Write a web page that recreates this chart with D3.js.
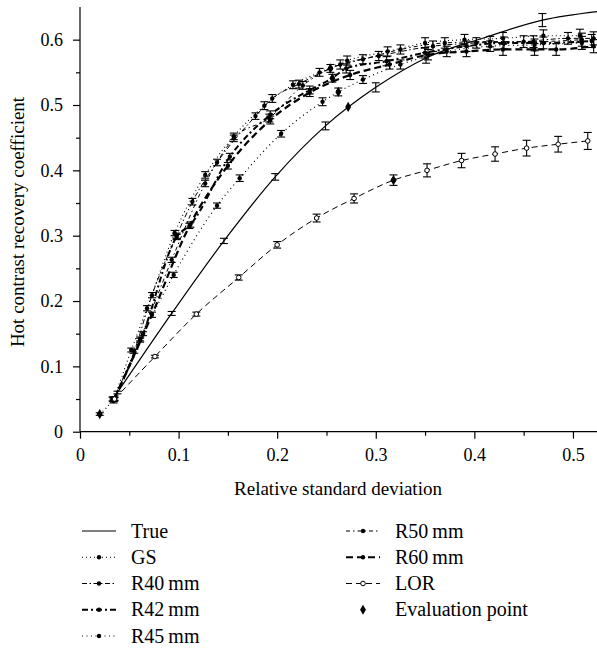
<!DOCTYPE html>
<html><head><meta charset="utf-8">
<script src="https://cdn.jsdelivr.net/npm/d3@7"></script>
<style>
html,body{margin:0;padding:0;background:#fff;}
svg text{font-family:"Liberation Serif","DejaVu Serif",serif;fill:#000;}
</style></head>
<body><svg id="chart" width="597" height="650"></svg>
<script>
// ---- data ----
const xTicks = [0, 0.1, 0.2, 0.3, 0.4, 0.5];
const yTicks = [0, 0.1, 0.2, 0.3, 0.4, 0.5, 0.6];
const xTickLabels = ["0", "0.1", "0.2", "0.3", "0.4", "0.5"];
const yTickLabels = ["0", "0.1", "0.2", "0.3", "0.4", "0.5", "0.6"];

const trueX = [0.038, 0.093, 0.146, 0.198, 0.249, 0.300, 0.351, 0.410, 0.469, 0.530];
const trueY = [0.060, 0.181, 0.292, 0.390, 0.468, 0.527, 0.572, 0.603, 0.630, 0.644];
const trueErr = [0.002, 0.003, 0.004, 0.005, 0.006, 0.007, 0.008, 0.000, 0.010, 0.000];

const gsX = [0.020, 0.033, 0.052, 0.068, 0.096, 0.127, 0.156, 0.187, 0.216, 0.243, 0.271, 0.312, 0.350, 0.390, 0.429, 0.470, 0.507];
const gsY = [0.027, 0.050, 0.125, 0.189, 0.304, 0.393, 0.452, 0.499, 0.531, 0.550, 0.568, 0.582, 0.595, 0.600, 0.602, 0.606, 0.606];
const gsErr = [0.002, 0.003, 0.003, 0.004, 0.004, 0.005, 0.005, 0.006, 0.006, 0.006, 0.007, 0.007, 0.008, 0.008, 0.009, 0.009, 0.010];

const r40X = [0.034, 0.055, 0.073, 0.098, 0.114, 0.139, 0.178, 0.195, 0.222, 0.264, 0.303, 0.358, 0.402, 0.450, 0.495, 0.521];
const r40Y = [0.050, 0.123, 0.209, 0.300, 0.352, 0.412, 0.483, 0.510, 0.532, 0.562, 0.575, 0.590, 0.595, 0.597, 0.602, 0.602];
const r40Err = [0.003, 0.003, 0.004, 0.004, 0.005, 0.005, 0.005, 0.006, 0.006, 0.007, 0.007, 0.008, 0.008, 0.009, 0.009, 0.010];

const r42X = [0.034, 0.064, 0.098, 0.112, 0.152, 0.193, 0.233, 0.256, 0.270, 0.311, 0.350, 0.392, 0.430, 0.470, 0.519];
const r42Y = [0.049, 0.150, 0.298, 0.317, 0.421, 0.485, 0.523, 0.541, 0.556, 0.567, 0.580, 0.590, 0.595, 0.595, 0.598];
const r42Err = [0.003, 0.003, 0.004, 0.004, 0.005, 0.006, 0.006, 0.006, 0.007, 0.007, 0.008, 0.008, 0.009, 0.009, 0.010];

const r45X = [0.034, 0.061, 0.095, 0.139, 0.162, 0.204, 0.246, 0.262, 0.287, 0.325, 0.372, 0.416, 0.461, 0.509];
const r45Y = [0.047, 0.140, 0.240, 0.346, 0.388, 0.456, 0.505, 0.520, 0.539, 0.562, 0.582, 0.590, 0.592, 0.595];
const r45Err = [0.003, 0.003, 0.004, 0.004, 0.005, 0.005, 0.006, 0.006, 0.006, 0.007, 0.008, 0.008, 0.009, 0.010];

const r50X = [0.034, 0.061, 0.093, 0.127, 0.156, 0.192, 0.226, 0.254, 0.287, 0.325, 0.370, 0.416, 0.460, 0.509];
const r50Y = [0.050, 0.142, 0.263, 0.380, 0.449, 0.480, 0.530, 0.556, 0.570, 0.585, 0.595, 0.597, 0.597, 0.600];
const r50Err = [0.003, 0.003, 0.004, 0.005, 0.005, 0.006, 0.006, 0.006, 0.007, 0.007, 0.008, 0.008, 0.009, 0.010];

const r60X = [0.035, 0.073, 0.111, 0.150, 0.193, 0.233, 0.274, 0.314, 0.353, 0.392, 0.429, 0.461, 0.483, 0.521];
const r60Y = [0.050, 0.179, 0.315, 0.407, 0.477, 0.519, 0.546, 0.562, 0.577, 0.582, 0.585, 0.585, 0.585, 0.590];
const r60Err = [0.003, 0.004, 0.004, 0.005, 0.006, 0.006, 0.007, 0.007, 0.008, 0.008, 0.009, 0.009, 0.009, 0.010];

const lorX = [0.035, 0.076, 0.118, 0.161, 0.200, 0.240, 0.278, 0.318, 0.352, 0.387, 0.421, 0.453, 0.485, 0.515];
const lorY = [0.050, 0.115, 0.180, 0.236, 0.286, 0.327, 0.357, 0.385, 0.400, 0.415, 0.425, 0.434, 0.440, 0.445];
const lorErr = [0.002, 0.002, 0.003, 0.004, 0.005, 0.006, 0.007, 0.008, 0.010, 0.011, 0.011, 0.012, 0.012, 0.013];

const evalX = [0.020, 0.254, 0.256, 0.262, 0.272, 0.318];
const evalY = [0.027, 0.556, 0.541, 0.520, 0.497, 0.385];

const seriesNames = ["True", "GS", "R40\u2009mm", "R42\u2009mm", "R45\u2009mm", "R50\u2009mm", "R60\u2009mm", "LOR", "Evaluation point"];

// ---- build ----
const svg = d3.select("#chart");
const x = d3.scaleLinear().domain([0, 0.525]).range([80, 597.6]);
const y = d3.scaleLinear().domain([0, 0.65]).range([431.7, 7]);

const styles = {
  "True": {dash: null, w: 1.2, marker: "none"},
  "GS": {dash: "1,3", w: 1.1, marker: "dot"},
  "R40\u2009mm": {dash: "5,2.5,1.5,2.5", w: 1, marker: "dot"},
  "R42\u2009mm": {dash: "6,3,2,3", w: 2, marker: "dot"},
  "R45\u2009mm": {dash: "1,3.5", w: 1.2, marker: "dot"},
  "R50\u2009mm": {dash: "4,3,1.5,3", w: 1, marker: "dot"},
  "R60\u2009mm": {dash: "7,4", w: 2.2, marker: "dot"},
  "LOR": {dash: "6,4", w: 1, marker: "open"}
};

const series = [
  {name: seriesNames[0], xs: trueX, ys: trueY, es: trueErr},
  {name: seriesNames[1], xs: gsX, ys: gsY, es: gsErr},
  {name: seriesNames[2], xs: r40X, ys: r40Y, es: r40Err},
  {name: seriesNames[3], xs: r42X, ys: r42Y, es: r42Err},
  {name: seriesNames[4], xs: r45X, ys: r45Y, es: r45Err},
  {name: seriesNames[5], xs: r50X, ys: r50Y, es: r50Err},
  {name: seriesNames[6], xs: r60X, ys: r60Y, es: r60Err},
  {name: seriesNames[7], xs: lorX, ys: lorY, es: lorErr}
];

svg.append("defs").append("clipPath").attr("id", "clip")
  .append("rect").attr("x", 80).attr("y", 0).attr("width", 520).attr("height", 432);

const plot = svg.append("g").attr("clip-path", "url(#clip)");
const line = d3.line().x(d => x(d[0])).y(d => y(d[1])).curve(d3.curveMonotoneX);

series.forEach(s => {
  const st = styles[s.name];
  const pts = s.xs.map((v, i) => [v, s.ys[i], s.es[i]]);
  plot.append("path").datum(pts).attr("d", line)
    .attr("fill", "none").attr("stroke", "#000").attr("stroke-width", st.w)
    .attr("stroke-dasharray", st.dash);
  const eb = plot.append("g").attr("stroke", "#000").attr("stroke-width", 1.1);
  pts.filter(p => p[2] > 0).forEach(p => {
    const cx = x(p[0]), y1 = y(p[1] - p[2]), y2 = y(p[1] + p[2]);
    eb.append("line").attr("x1", cx).attr("x2", cx).attr("y1", y1).attr("y2", y2);
    eb.append("line").attr("x1", cx - 4).attr("x2", cx + 4).attr("y1", y1).attr("y2", y1);
    eb.append("line").attr("x1", cx - 4).attr("x2", cx + 4).attr("y1", y2).attr("y2", y2);
  });
  if (st.marker === "dot") {
    plot.append("g").selectAll("circle").data(pts).join("circle")
      .attr("cx", d => x(d[0])).attr("cy", d => y(d[1])).attr("r", 2.2).attr("fill", "#000");
  } else if (st.marker === "open") {
    plot.append("g").selectAll("circle").data(pts).join("circle")
      .attr("cx", d => x(d[0])).attr("cy", d => y(d[1])).attr("r", 2.3)
      .attr("fill", "#fff").attr("stroke", "#000").attr("stroke-width", 1);
  }
});

const diamond = d3.symbol().type(d3.symbolDiamond).size(30);
plot.append("g").selectAll("path").data(evalX.map((v, i) => [v, evalY[i]])).join("path")
  .attr("d", diamond).attr("transform", d => `translate(${x(d[0])},${y(d[1])})`).attr("fill", "#000");

// ---- axes ----
const xAxis = d3.axisBottom(x).tickValues(xTicks).tickFormat((d, i) => xTickLabels[i]).tickSize(7).tickPadding(10);
const gx = svg.append("g").attr("transform", "translate(0,431.7)").call(xAxis);
gx.select(".domain").attr("d", `M80,0H597.6`);
const xMinor = d3.axisBottom(x).tickValues([0.05, 0.15, 0.25, 0.35, 0.45]).tickFormat("").tickSize(4);
const gxm = svg.append("g").attr("transform", "translate(0,431.7)").call(xMinor);
gxm.select(".domain").remove();

const yAxis = d3.axisLeft(y).tickValues(yTicks).tickFormat((d, i) => yTickLabels[i]).tickSize(7).tickPadding(10);
const gy = svg.append("g").attr("transform", "translate(80,0)").call(yAxis);
gy.select(".domain").attr("d", `M0,431.7V7`);
const yMinor = d3.axisLeft(y).tickValues([0.05, 0.15, 0.25, 0.35, 0.45, 0.55]).tickFormat("").tickSize(4);
const gym = svg.append("g").attr("transform", "translate(80,0)").call(yMinor);
gym.select(".domain").remove();

svg.selectAll(".tick line").attr("stroke", "#000").attr("stroke-width", 1.2);
svg.selectAll(".domain").attr("stroke", "#000").attr("stroke-width", 1.2);
svg.selectAll(".tick text").attr("font-size", 18).attr("font-family", "Liberation Serif, serif").attr("fill", "#000");

svg.append("text").attr("x", 338).attr("y", 495).attr("text-anchor", "middle")
  .attr("font-size", 19).text("Relative standard deviation");
svg.append("text").attr("transform", "translate(24,222) rotate(-90)").attr("text-anchor", "middle")
  .attr("font-size", 19).text("Hot contrast recovery coefficient");

// ---- legend ----
const legendItems = [
  {name: seriesNames[0], col: 0, row: 0},
  {name: seriesNames[1], col: 0, row: 1},
  {name: seriesNames[2], col: 0, row: 2},
  {name: seriesNames[3], col: 0, row: 3},
  {name: seriesNames[4], col: 0, row: 4},
  {name: seriesNames[5], col: 1, row: 0},
  {name: seriesNames[6], col: 1, row: 1},
  {name: seriesNames[7], col: 1, row: 2},
  {name: seriesNames[8], col: 1, row: 3}
];
const colX = [82, 346];
const rowY = d3.scaleLinear().domain([0, 4]).range([531, 636]);
legendItems.forEach(it => {
  const g = svg.append("g").attr("transform", `translate(${colX[it.col]},${rowY(it.row)})`);
  const st = styles[it.name];
  if (st) {
    g.append("line").attr("x1", 0).attr("x2", 34).attr("y1", 0).attr("y2", 0)
      .attr("stroke", "#000").attr("stroke-width", st.w).attr("stroke-dasharray", st.dash);
    if (st.marker === "dot") g.append("circle").attr("cx", 17).attr("cy", 0).attr("r", 2.2).attr("fill", "#000");
    if (st.marker === "open") g.append("circle").attr("cx", 17).attr("cy", 0).attr("r", 2.3).attr("fill", "#fff").attr("stroke", "#000");
  } else {
    g.append("path").attr("d", diamond).attr("transform", "translate(17,0)").attr("fill", "#000");
  }
  g.append("text").attr("x", 49).attr("y", 6.5).attr("font-size", 20).text(it.name);
});
</script></body></html>
